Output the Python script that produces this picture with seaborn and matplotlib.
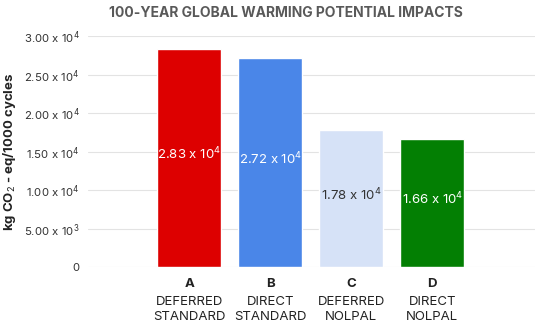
import pandas as pd
import matplotlib.pyplot as plt
import matplotlib.transforms as mtransforms
import seaborn as sns

# Data
letters = ['A', 'B', 'C', 'D']
descriptions = ['DEFERRED\nSTANDARD', 'DIRECT\nSTANDARD', 'DEFERRED\nNOLPAL', 'DIRECT\nNOLPAL']
gwp_values = [28300, 27200, 17800, 16600]
bar_colors = ['#DD0000', '#4A86E8', '#D6E2F7', '#037F03']
label_colors = ['white', 'white', '#333333', 'white']
y_ticks = [0, 5000, 10000, 15000, 20000, 25000, 30000]


def sci_label(v):
    if v == 0:
        return '0'
    exp = len(str(int(v))) - 1
    return '%.2f x 10$^{%d}$' % (v / 10 ** exp, exp)


df = pd.DataFrame({'Case': letters, 'GWP': gwp_values})

sns.set_theme(style='white')
plt.rcParams['font.family'] = ['Inter', 'DejaVu Sans']
plt.rcParams['mathtext.fontset'] = 'custom'
plt.rcParams['mathtext.rm'] = 'Inter'

fig = plt.figure(figsize=(5.5, 3.31), dpi=100)
ax = fig.add_axes([0.16, 0.193, 0.813, 0.698])

sns.barplot(
    data=df,
    x='Case',
    y='GWP',
    hue='Case',
    palette=bar_colors,
    width=0.79,
    saturation=1,
    legend=False,
    ax=ax,
    zorder=3
)

ax.set_xlim(-1.25, 3 + 1.27)
ax.set_ylim(0, 30000)
ax.set_yticks(y_ticks)
ax.set_yticklabels([sci_label(v) for v in y_ticks], fontsize=8.2, color='#333333')
ax.grid(axis='y', color='#e3e3e3', linewidth=0.8, zorder=0)
for spine in ax.spines.values():
    spine.set_visible(False)
ax.tick_params(axis='y', length=0, pad=6)
ax.tick_params(axis='x', length=0, pad=8)

ax.set_xticks(range(len(letters)))
ax.set_xticklabels(letters, fontsize=9.5, fontweight='bold', color='#222222')
ax.set_xlabel('')

trans = mtransforms.blended_transform_factory(ax.transData, ax.transAxes)
for i, d in enumerate(descriptions):
    ax.text(i, -0.125, d, transform=trans, ha='center', va='top',
            fontsize=9.5, color='#222222', linespacing=1.3)

for i, v in enumerate(gwp_values):
    ax.text(i, v / 2 + 500, sci_label(v), ha='center', va='center',
            fontsize=9.5, color=label_colors[i], zorder=4)

ax.set_ylabel('kg CO$_2$ - eq/1000 cycles', fontsize=9.5, fontweight='bold',
              color='#222222')
ax.yaxis.set_label_coords(-0.157, 0.5)

fig.text(0.52, 0.96, '100-YEAR GLOBAL WARMING POTENTIAL IMPACTS',
         ha='center', va='center', fontsize=10, fontweight='bold', color='#595959')

plt.savefig('out.png', dpi=100)
plt.close()
